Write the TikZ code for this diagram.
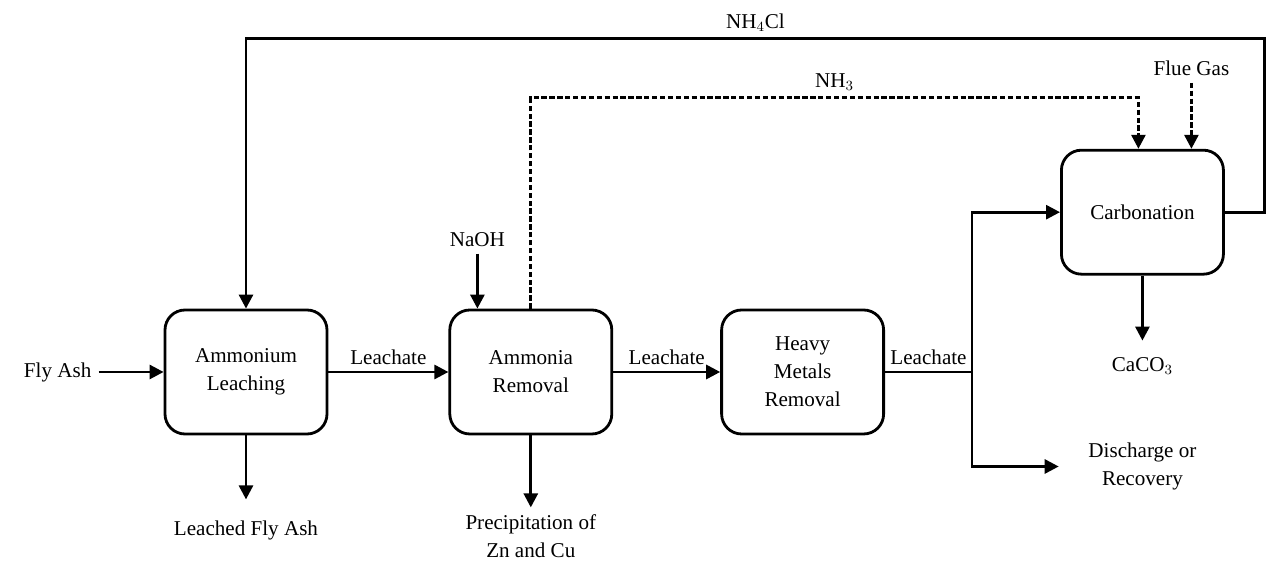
\documentclass[tikz,border=0pt]{standalone}
\usepackage{fontspec}
\setmainfont{Liberation Serif}
\usepackage{tikz}
\usetikzlibrary{arrows.meta, positioning}

\begin{document}
\begin{tikzpicture}[
            font=\fontsize{12}{16}\selectfont,
            line width=1.6pt,
            unit/.style={rectangle, draw, rounded corners=0.4cm, align=center, minimum width=3.24cm, minimum height=2.48cm},
            lbl/.style={align=center},
            flow/.style={-{Triangle[length=0.28cm, width=0.28cm]}},
            dflow/.style={flow, dash pattern=on 3pt off 1.5pt}
        ]
        \useasboundingbox (-4.92,-3.80) rectangle (20.44,7.44);

        % Units
        \node[unit] (leach) {Ammonium\\Leaching};
        \node[unit, right=2.40cm of leach] (nh3rem) {Ammonia\\Removal};
        \node[unit, right=2.14cm of nh3rem] (hmrem) {Heavy\\Metals\\Removal};
        \node[unit, above right=0.66cm and 3.50cm of hmrem] (carb) {Carbonation};

        % Inputs and outputs
        \node[lbl, left=1.3cm of leach] (flyash) {Fly Ash};
        \node[lbl, below=1.56cm of leach] (leached) {Leached Fly Ash};
        \node[lbl, below=1.44cm of nh3rem] (precip) {Precipitation of\\Zn and Cu};
        \node[lbl, above=1.1cm of nh3rem.north west, xshift=0.58cm] (naoh) {NaOH};
        \node[lbl, above=1.32cm of carb.north, xshift=0.98cm] (flue) {Flue Gas};
        \node[lbl, below=1.5cm of carb] (caco3) {CaCO$_3$};
        \node[lbl, below=3.2cm of carb] (disch) {Discharge or\\Recovery};
        \coordinate[right=1.74cm of hmrem.east] (split);

        % Main line
        \draw[flow] (flyash) -- (leach);
        \draw[flow] (leach) -- (nh3rem) node[midway, above] {Leachate};
        \draw[flow] (nh3rem) -- (hmrem) node[midway, above] {Leachate};
        \draw (hmrem.east) -- (split) node[midway, above] {Leachate};
        \draw[flow] (split) |- (carb.west);
        \draw[flow, shorten >=0.45cm] (split) |- (disch.west);

        % Side streams
        \draw[flow, shorten >=0.28cm] (leach) -- (leached);
        \draw[flow] (nh3rem) -- (precip);
        \draw[flow] (naoh) -- (naoh |- nh3rem.north);
        \draw[flow, shorten >=0.2cm] (carb) -- (caco3);
        \draw[dflow] (flue) -- (flue |- carb.north);

        % Recycle loops
        \draw[dflow] (nh3rem.north) |- ([xshift=-0.08cm, yshift=1.02cm]carb.north)
            node[pos=0.75, above] {NH$_3$} -- ([xshift=-0.08cm]carb.north);
        \draw[flow] (carb.east) -- ++(0.8,0) |- ([yshift=5.4cm]leach.north)
            node[pos=0.75, above] {NH$_4$Cl} -- (leach.north);

    \end{tikzpicture}
\end{document}
